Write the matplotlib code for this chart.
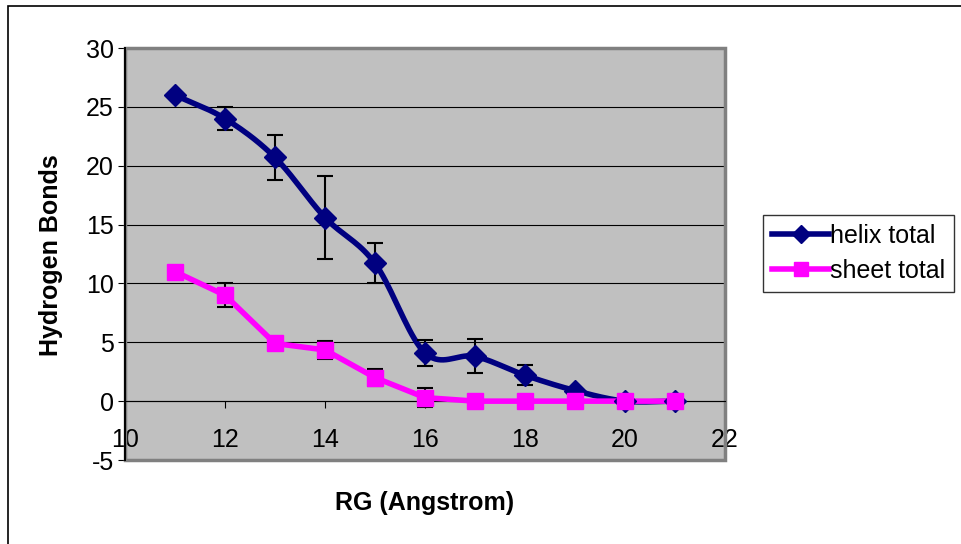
import numpy as np
import matplotlib
matplotlib.use("Agg")
from matplotlib import pyplot as plt
from matplotlib.patches import Rectangle

plt.rcParams['font.family'] = ['Liberation Sans', 'DejaVu Sans']
plt.rcParams['axes.unicode_minus'] = False

rg = [11, 12, 13, 14, 15, 16, 17, 18, 19, 20, 21]
helix = [26.0, 24.0, 20.7, 15.6, 11.7, 4.1, 3.8, 2.2, 0.9, 0.0, 0.0]
helix_err = [0.0, 1.0, 1.9, 3.5, 1.7, 1.1, 1.45, 0.85, 0.0, 0.0, 0.0]
sheet = [11.0, 9.0, 4.9, 4.35, 2.0, 0.3, 0.0, 0.0, 0.0, 0.0, 0.0]
sheet_err = [0.0, 1.0, 0.0, 0.8, 0.7, 0.8, 0.0, 0.0, 0.0, 0.0, 0.0]


def smooth(x, y, n=20):
    # Catmull-Rom curve through the points, like Excel's smoothed line
    x = np.asarray(x, float)
    y = np.asarray(y, float)
    px = np.concatenate([[2 * x[0] - x[1]], x, [2 * x[-1] - x[-2]]])
    py = np.concatenate([[2 * y[0] - y[1]], y, [2 * y[-1] - y[-2]]])
    xs, ys = [], []
    t = np.linspace(0, 1, n)
    for i in range(1, len(px) - 2):
        for p, out in ((px, xs), (py, ys)):
            p0, p1, p2, p3 = p[i - 1], p[i], p[i + 1], p[i + 2]
            out.extend(0.5 * (2 * p1 + (-p0 + p2) * t
                              + (2 * p0 - 5 * p1 + 4 * p2 - p3) * t ** 2
                              + (-p0 + 3 * p1 - 3 * p2 + p3) * t ** 3))
    return xs, ys


fig = plt.figure(figsize=(9.61, 5.44), dpi=100)
fig.patches.append(Rectangle((8 / 961, -0.1), 1.2, 1 - 6 / 544 + 0.1,
                             transform=fig.transFigure, fill=False,
                             edgecolor='black', linewidth=1.2))

ax = fig.add_axes([125 / 961, 1 - 460 / 544, 600 / 961, 412 / 544])
ax.set_facecolor('#c0c0c0')
ax.add_patch(Rectangle((0, 0), 1, 1, transform=ax.transAxes, fill=False,
                       edgecolor='#808080', linewidth=2.5, zorder=1.5, clip_on=False))

ax.set_xlim(10, 22)
ax.set_ylim(-5, 30)
ax.set_xticks(range(10, 23, 2))
ax.set_yticks(range(-5, 31, 5))
ax.grid(axis='y', color='black', linewidth=0.8)
ax.set_axisbelow(True)

for s in ['top', 'right']:
    ax.spines[s].set_visible(False)
ax.spines['bottom'].set_position(('data', 0))
ax.spines['bottom'].set_linewidth(0.8)
ax.spines['left'].set_linewidth(1.4)
ax.tick_params(axis='both', direction='out', length=5, labelsize=18, width=0.8)
ax.tick_params(axis='x', pad=14)
ax.tick_params(axis='y', pad=3)

hx, hy = smooth(rg, helix)
ax.plot(hx, hy, color='#000080', linewidth=4, zorder=3)
ax.plot(rg, helix, linestyle='none', marker='D', markersize=11,
        color='#000080', zorder=4)
ax.errorbar(rg, helix, yerr=helix_err, fmt='none', ecolor='black',
            elinewidth=1.5, capsize=5.5, capthick=1.5, zorder=3.5)

ax.plot(rg, sheet, color='#ff00ff', linewidth=4, zorder=3)
ax.plot(rg, sheet, linestyle='none', marker='s', markersize=12,
        color='#ff00ff', zorder=4)
ax.errorbar(rg, sheet, yerr=sheet_err, fmt='none', ecolor='black',
            elinewidth=1.5, capsize=5.5, capthick=1.5, zorder=3.5)

fig.text(51 / 961, 1 - 255 / 544, 'Hydrogen Bonds', fontsize=18,
         fontweight='bold', rotation=90, ha='center', va='center')
fig.text(425 / 961, 1 - 503 / 544, 'RG (Angstrom)', fontsize=18,
         fontweight='bold', ha='center', va='center')

h1, = ax.plot([], [], color='#000080', linewidth=4, marker='D', markersize=9)
h2, = ax.plot([], [], color='#ff00ff', linewidth=4, marker='s', markersize=10)
leg = fig.legend([h1, h2], ['helix total', 'sheet total'],
                 loc='upper left', bbox_to_anchor=(763 / 961, 1 - 215 / 544),
                 fontsize=18, frameon=True, fancybox=False, edgecolor='black',
                 handlelength=2.3, handletextpad=0.05, borderpad=0.35,
                 labelspacing=0.45, borderaxespad=0)
leg.get_frame().set_linewidth(1.0)

plt.savefig('out.png', dpi=100)
